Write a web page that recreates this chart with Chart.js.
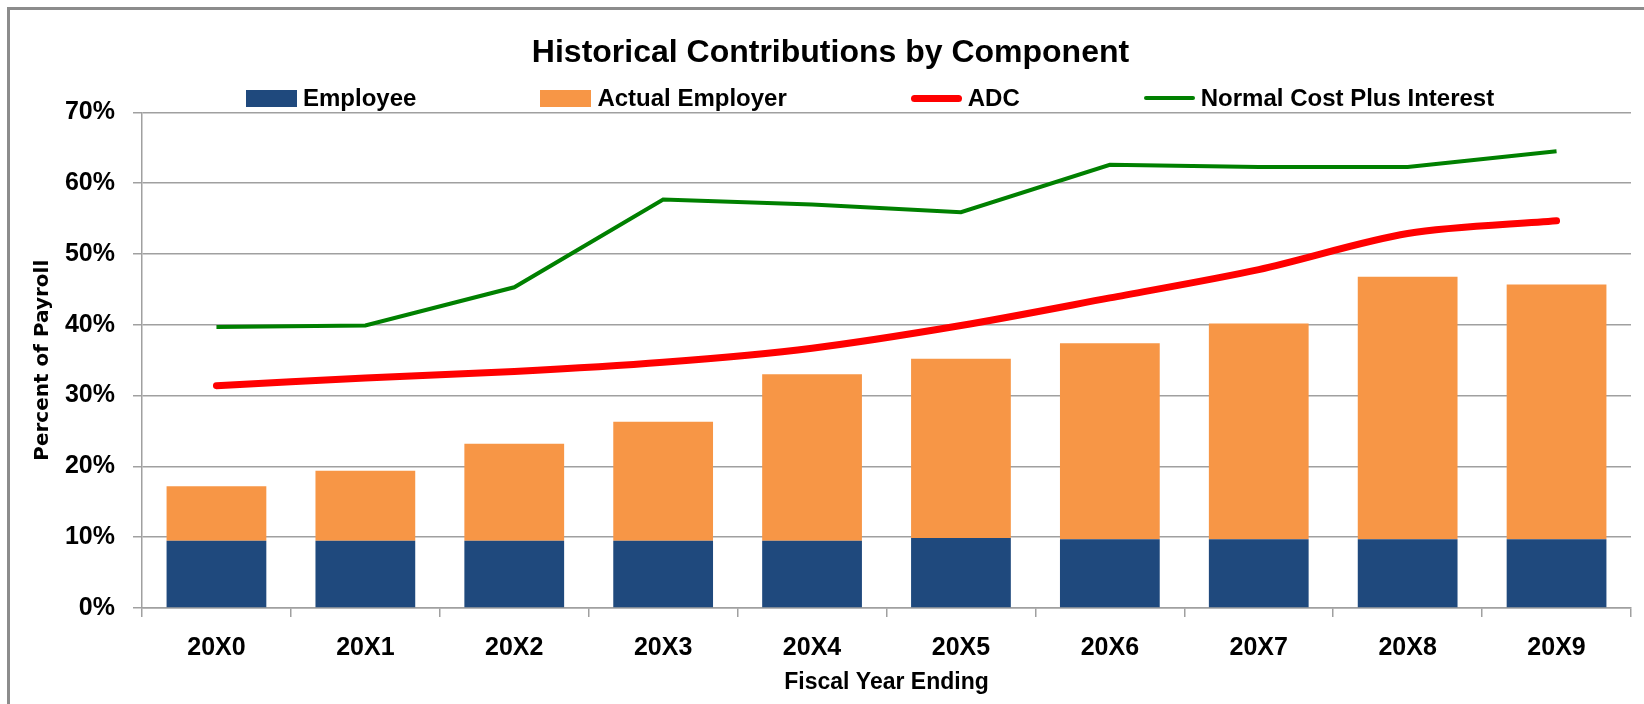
<!DOCTYPE html>
<html>
<head>
<meta charset="utf-8">
<script src="https://cdn.jsdelivr.net/npm/chart.js@4.4.1/dist/chart.umd.min.js"></script>
<style>
  html, body { margin: 0; padding: 0; background: #fff; }
  #wrap { position: relative; width: 1644px; height: 704px; overflow: hidden; }
  #frame { position: absolute; left: 7px; top: 7px; width: 1660px; height: 720px;
           border-top: 3px solid #8c8c8c; border-left: 3px solid #8c8c8c; pointer-events: none; }
  #legend { position: absolute; left: 246px; top: 84px; display: flex; align-items: center; gap: 124px;
            font: bold 24px "Liberation Sans", Arial, sans-serif; color: #000; }
  .item { display: flex; align-items: center; gap: 6px; white-space: nowrap; }
  .swatch { display: inline-block; width: 51px; }
</style>
</head>
<body>
<div id="wrap">
  <canvas id="grafico" width="1644" height="704"></canvas>
  <div id="legend"></div>
  <div id="frame"></div>
</div>
<script>
// dados (percentual da folha)
const anos = ["20X0", "20X1", "20X2", "20X3", "20X4", "20X5", "20X6", "20X7", "20X8", "20X9"];
const employee = [9.5, 9.5, 9.5, 9.5, 9.5, 9.9, 9.7, 9.7, 9.7, 9.7];
const actualEmployer = [7.7, 9.9, 13.7, 16.8, 23.5, 25.3, 27.7, 30.5, 37.1, 36.0];
const adc = [31.4, 32.5, 33.4, 34.7, 36.7, 39.9, 43.8, 47.8, 52.9, 54.7];
const normalCostPlusInterest = [39.7, 39.9, 45.3, 57.7, 57.0, 55.9, 62.6, 62.3, 62.3, 64.5];
const yMin = 0, yMax = 70, yStep = 10;

const fonte = "'Liberation Sans', Arial, sans-serif";
const cinza = "#a0a0a0";

// Legenda em HTML, montada a partir dos datasets
const htmlLegend = {
  id: "htmlLegend",
  afterUpdate(chart) {
    const box = document.getElementById("legend");
    box.innerHTML = "";
    chart.data.datasets.forEach(ds => {
      const item = document.createElement("span");
      item.className = "item";
      const sw = document.createElement("span");
      sw.className = "swatch";
      if (ds.type === "line") {
        sw.style.height = ds.borderWidth + "px";
        sw.style.background = ds.borderColor;
        sw.style.borderRadius = ds.borderWidth / 2 + "px";
      } else {
        sw.style.height = "17px";
        sw.style.background = ds.backgroundColor;
      }
      const txt = document.createElement("span");
      txt.textContent = ds.label;
      item.appendChild(sw);
      item.appendChild(txt);
      box.appendChild(item);
    });
  }
};

const ctx = document.getElementById("grafico").getContext("2d");
new Chart(ctx, {
  data: {
    labels: anos,
    datasets: [
      {
        type: "bar",
        label: "Employee",
        data: employee,
        backgroundColor: "#1f497d",
        stack: "contrib",
        order: 2
      },
      {
        type: "bar",
        label: "Actual Employer",
        data: actualEmployer,
        backgroundColor: "#f79646",
        stack: "contrib",
        order: 2
      },
      {
        type: "line",
        label: "ADC",
        data: adc,
        borderColor: "#ff0000",
        borderWidth: 7,
        borderCapStyle: "round",
        tension: 0.3,
        pointRadius: 0,
        stack: "adc",
        order: 1
      },
      {
        type: "line",
        label: "Normal Cost Plus Interest",
        data: normalCostPlusInterest,
        borderColor: "#008000",
        borderWidth: 4,
        tension: 0,
        pointRadius: 0,
        stack: "nc",
        order: 0
      }
    ]
  },
  options: {
    responsive: false,
    animation: false,
    layout: { padding: { top: 34, right: 13, bottom: 0, left: 30 } },
    datasets: { bar: { barPercentage: 0.67, categoryPercentage: 1 } },
    plugins: {
      legend: { display: false },
      tooltip: { enabled: false },
      title: {
        display: true,
        text: "Historical Contributions by Component",
        color: "#000",
        font: { family: fonte, size: 32, weight: "bold" },
        padding: { top: 0, bottom: 40 }
      }
    },
    scales: {
      x: {
        stacked: true,
        grid: { drawOnChartArea: false, drawTicks: true, tickLength: 9, color: cinza, lineWidth: 1.5, offset: true },
        border: { color: cinza, width: 1.5 },
        ticks: { color: "#000", padding: 16, font: { family: fonte, size: 25, weight: "bold" } },
        title: {
          display: true,
          text: "Fiscal Year Ending",
          color: "#000",
          font: { family: fonte, size: 23, weight: "bold" },
          padding: { top: 0, bottom: 8 }
        },
        afterFit(scale) { scale.height = 96; }
      },
      y: {
        stacked: true,
        min: yMin,
        max: yMax,
        grid: { color: cinza, lineWidth: 1.5, tickLength: 9 },
        border: { color: cinza, width: 1.5 },
        ticks: {
          stepSize: yStep,
          padding: 18,
          color: "#000",
          font: { family: fonte, size: 25, weight: "bold" },
          callback: v => v + "%"
        },
        title: {
          display: true,
          text: "Percent of Payroll",
          color: "#000",
          font: { family: "'DejaVu Sans', sans-serif", size: 20, weight: "bold" },
          padding: { top: 1, bottom: 0 }
        },
        afterFit(scale) { scale.width = 112; }
      }
    }
  },
  plugins: [htmlLegend]
});
</script>
</body>
</html>
